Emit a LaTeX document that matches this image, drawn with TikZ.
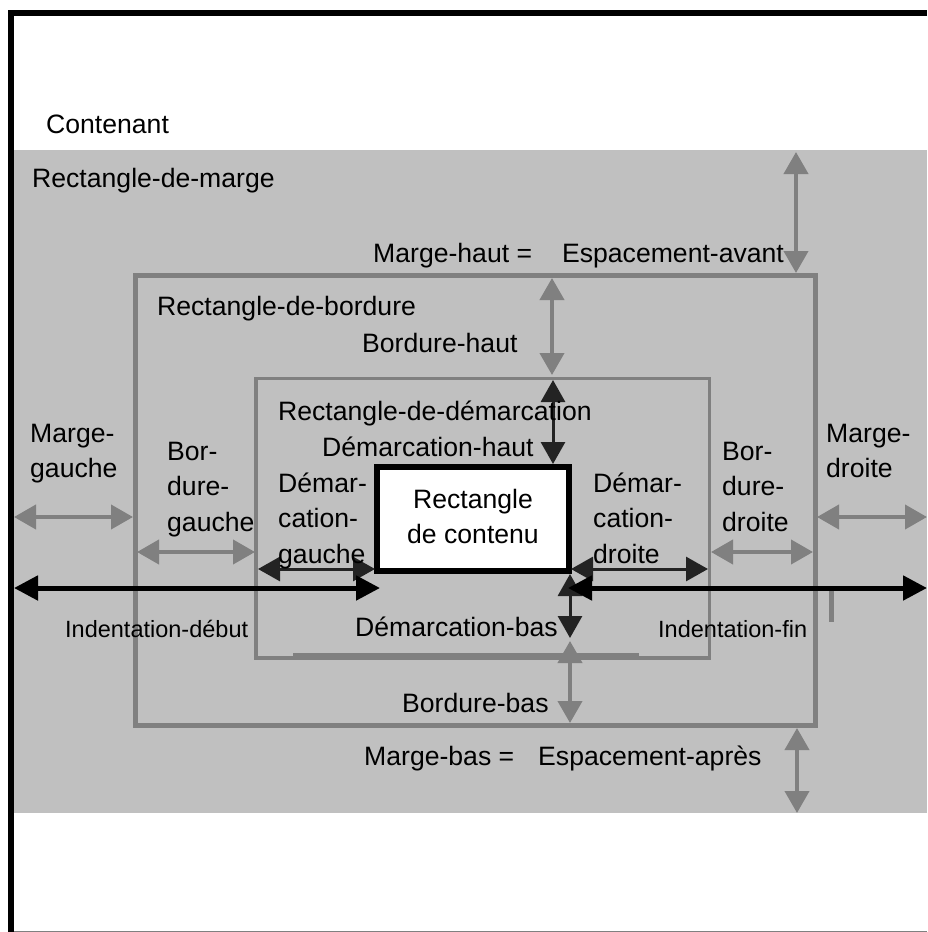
\documentclass[tikz,border=0pt]{standalone}
\usepackage{fontspec}
\setmainfont{Liberation Sans}
\usetikzlibrary{arrows.meta}
\definecolor{bandgray}{RGB}{192,192,192}
\definecolor{linegray}{RGB}{128,128,128}
\definecolor{darkarr}{RGB}{35,35,35}
\tikzset{
  lbl/.style={font=\fontsize{26.6}{35.5}\selectfont, inner sep=0pt, anchor=base west},
  smlbl/.style={font=\fontsize{23.5}{30}\selectfont, inner sep=0pt, anchor=base west},
  garr/.style={draw=linegray, fill=linegray, line width=4pt, {Triangle[length=22pt,width=24pt]}-{Triangle[length=22pt,width=24pt]}},
  darr/.style={draw=darkarr, fill=darkarr, line width=3pt, {Triangle[length=22pt,width=24pt]}-{Triangle[length=22pt,width=24pt]}},
  barr/.style={draw=black, fill=black, line width=5pt, {Triangle[length=24pt,width=24pt]}-{Triangle[length=24pt,width=24pt]}},
  boxline/.style={draw=linegray, inner sep=0pt}
}
\begin{document}
\begin{tikzpicture}[x=1pt,y=-1pt]
\useasboundingbox (0,0) rectangle (927,932);
\fill[white] (0,0) rectangle (927,932);
% margin band
\node[fill=bandgray, inner sep=0pt, minimum width=916pt, minimum height=663pt] (marge) at (469,481.5) {};
% container frame
\draw[line width=6pt] (927,13) -- (11,13) -- (11,932);
\draw[linegray, line width=1pt] (14,931) -- (927,931);
% border rectangle
\node[boxline, line width=5pt, minimum width=680pt, minimum height=449.5pt] (bord) at (475,500.25) {};
% demarcation rectangle
\node[boxline, line width=3.5pt, minimum width=453.5pt, minimum height=279.5pt] (dem) at (482.75,518.25) {};
\draw[linegray, line width=4pt] (293,655) -- (639,655);
% content rectangle
\node[draw=black, fill=white, line width=6.5pt, inner sep=0pt, minimum width=192pt, minimum height=104pt,
      font=\fontsize{26.6}{35.5}\selectfont] (cont) at (473,519)
      {\begin{tabular}{@{}c@{}}Rectangle\\de contenu\end{tabular}};

% coordinates for arrows
\coordinate (mhA) at (796,152);  \coordinate (mhB) at (796,273);
\coordinate (bhA) at (552,278);  \coordinate (bhB) at (552,375);
\coordinate (dhA) at (553,380);  \coordinate (dhB) at (553,464);
\coordinate (dbA) at (570,574);  \coordinate (dbB) at (570,638);
\coordinate (bbA) at (570,641);  \coordinate (bbB) at (570,723);
\coordinate (mbA) at (797,728);  \coordinate (mbB) at (797,813);
\coordinate (mgA) at (14,517);   \coordinate (mgB) at (133,517);
\coordinate (bgA) at (137,552);  \coordinate (bgB) at (255,552);
\coordinate (dgA) at (258,569);  \coordinate (dgB) at (375,569);
\coordinate (idA) at (14,588);   \coordinate (idB) at (380,588);
\coordinate (ddA) at (571,569);  \coordinate (ddB) at (708,569);
\coordinate (bdA) at (711,552);  \coordinate (bdB) at (813,552);
\coordinate (mdA) at (817,517);  \coordinate (mdB) at (927,517);
\coordinate (ifA) at (568,588);  \coordinate (ifB) at (927,588);
\coordinate (tkA) at (831,590);  \coordinate (tkB) at (831,622);

\draw[garr] (mhA) -- (mhB);
\draw[garr] (bhA) -- (bhB);
\draw[garr] (bbA) -- (bbB);
\draw[garr] (mbA) -- (mbB);
\draw[garr] (mgA) -- (mgB);
\draw[garr] (bgA) -- (bgB);
\draw[garr] (bdA) -- (bdB);
\draw[garr] (mdA) -- (mdB);
\draw[linegray, line width=5pt] (tkA) -- (tkB);
\draw[darr] (dhA) -- (dhB);
\draw[darr] (dbA) -- (dbB);
\draw[darr] (dgA) -- (dgB);
\draw[darr] (ddA) -- (ddB);
\draw[barr] (idA) -- (idB);
\draw[barr] (ifA) -- (ifB);

% labels
\node[lbl] (tcont) at (46,133) {Contenant};
\node[lbl] (tmarge) at (32,187) {Rectangle-de-marge};
\node[lbl] (tmh) at (373,262) {Marge-haut =\hspace{30pt}Espacement-avant};
\node[lbl] (tbord) at (157,315) {Rectangle-de-bordure};
\node[lbl] (tbh) at (362,352) {Bordure-haut};
\node[lbl] (tdem) at (278,420) {Rectangle-de-démarcation};
\node[lbl] (tdh) at (322,456) {Démarcation-haut};
\node[lbl] (tdg) at (278,492) {\begin{tabular}[t]{@{}l@{}}Démar-\\cation-\\gauche\end{tabular}};
\node[lbl] (tdd) at (593,492) {\begin{tabular}[t]{@{}l@{}}Démar-\\cation-\\droite\end{tabular}};
\node[lbl] (tmg) at (30,442) {\begin{tabular}[t]{@{}l@{}}Marge-\\gauche\end{tabular}};
\node[lbl] (tbg) at (167,460) {\begin{tabular}[t]{@{}l@{}}Bor-\\dure-\\gauche\end{tabular}};
\node[lbl] (tbd) at (722,460) {\begin{tabular}[t]{@{}l@{}}Bor-\\dure-\\droite\end{tabular}};
\node[lbl] (tmd) at (826,442) {\begin{tabular}[t]{@{}l@{}}Marge-\\droite\end{tabular}};
\node[smlbl] (tid) at (65,637) {Indentation-début};
\node[lbl] (tdb) at (355,636) {Démarcation-bas};
\node[smlbl] (tif) at (658,637) {Indentation-fin};
\node[lbl] (tbb) at (402,712) {Bordure-bas};
\node[lbl] (tmb) at (364,765) {Marge-bas =\hspace{24pt}Espacement-après};
\end{tikzpicture}
\end{document}
